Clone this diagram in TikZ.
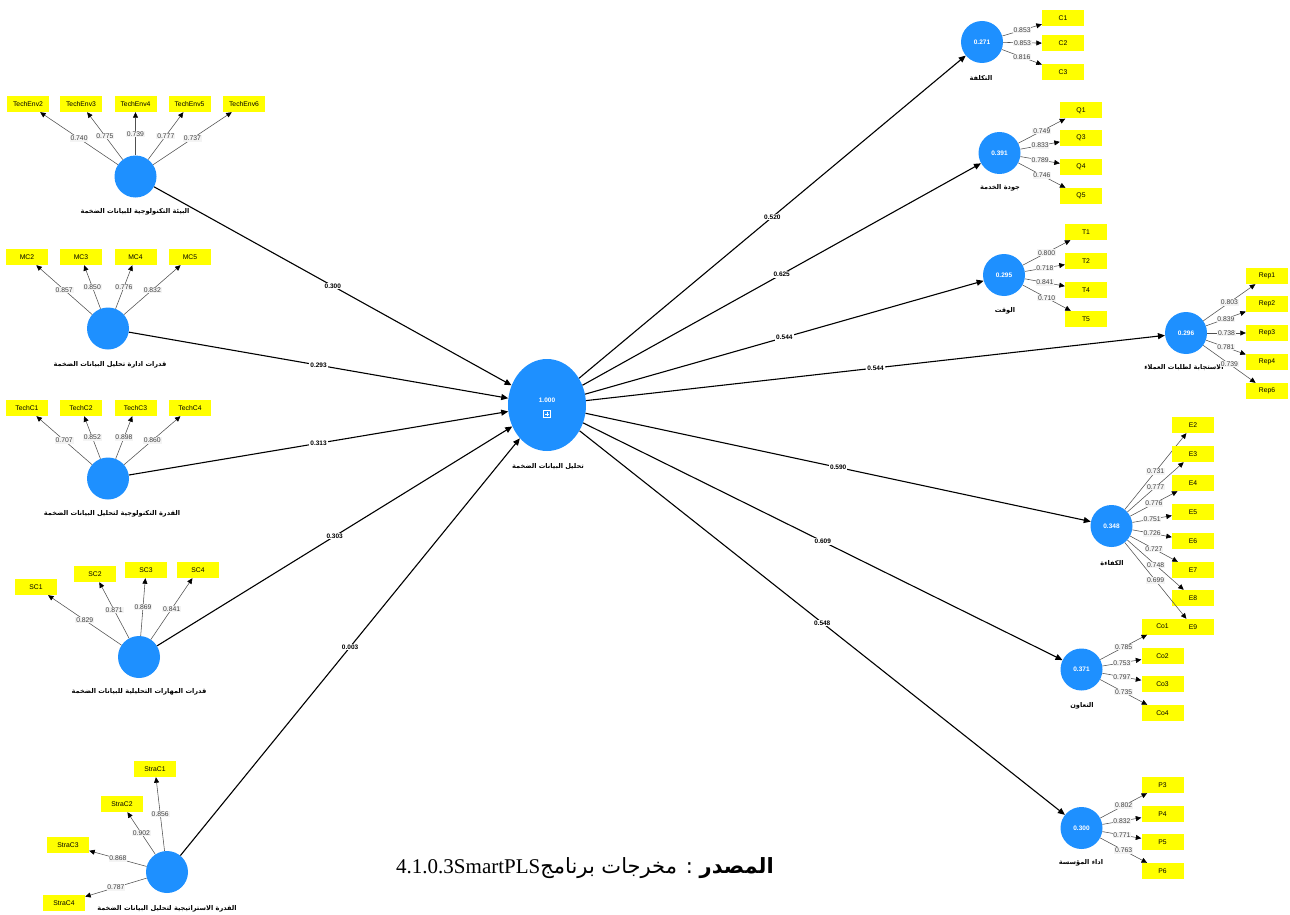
\documentclass[tikz,border=0pt]{standalone}
\usepackage{fontspec}
\setmainfont{Liberation Sans}
\newfontfamily\arabicfont[Script=Arabic]{DejaVu Sans}
\newfontfamily\capfont{Liberation Serif}
\TeXXeTstate=1
\usetikzlibrary{arrows.meta,shapes.geometric}
\definecolor{plsblue}{RGB}{30,144,255}
\definecolor{plsyellow}{RGB}{255,255,0}
\definecolor{ldgray}{RGB}{80,80,80}
\definecolor{ldfill}{RGB}{244,244,244}
\tikzset{
  lv/.style={circle, fill=plsblue, minimum size=42pt, inner sep=0pt, text=white, font=\bfseries\fontsize{6.5}{7}\selectfont},
  ind/.style={rectangle, fill=plsyellow, minimum width=42pt, minimum height=16pt, inner sep=0pt, font=\fontsize{6.8}{8}\selectfont},
  ld/.style={draw=ldgray, line width=0.55pt, -{Triangle[length=5.5pt,width=5pt,black]}},
  ldlab/.style={fill=ldfill, text=black!75, inner sep=0.8pt, font=\fontsize{6.8}{8}\selectfont},
  pth/.style={draw=black, line width=1.1pt, -{Triangle[length=7pt,width=6pt]}},
  pthlab/.style={fill=white, inner sep=1pt, font=\bfseries\fontsize{6.5}{8}\selectfont},
  arlab/.style={font=\arabicfont\bfseries\fontsize{6.6}{8}\selectfont, inner sep=0pt},
}
\begin{document}
\begin{tikzpicture}[x=1pt,y=-1pt]
\useasboundingbox (0,0) rectangle (1290,915);
\fill[white] (0,0) rectangle (1290,915);

% ---------- central construct ----------
\node[ellipse, fill=plsblue, minimum width=78pt, minimum height=92pt, inner sep=0pt] (bda) at (547,405) {};
\node[text=white, font=\bfseries\fontsize{6.5}{7}\selectfont] (bdaval) at (547,400) {1.000};
\node[draw=white, line width=0.6pt, minimum size=7.5pt, inner sep=0pt] (plus) at (547,414) {};
\draw[white, line width=0.6pt] ([yshift=2.3pt]plus.center) -- ([yshift=-2.3pt]plus.center);
\draw[white, line width=0.6pt] ([xshift=2.3pt]plus.center) -- ([xshift=-2.3pt]plus.center);
\node[arlab] (bdalab) at (548,467) {\beginR تحليل البيانات الضخمة\endR};

% ---------- TechEnv ----------
\node[lv] (te) at (135.5,176.5) {};
\node[arlab] (telab) at (135,212) {\beginR البيئة التكنولوجية للبيانات الضخمة\endR};
\foreach \n/\px/\l in {2/28/0.740, 3/81/0.775, 4/135.5/0.739, 5/189.5/0.777, 6/244/0.737} {
  \node[ind] (te\n) at (\px,104) {TechEnv\n};
  \draw[ld] (te) -- node[ldlab]{\l} (te\n);
}

% ---------- MC ----------
\node[lv] (mc) at (108,328.5) {};
\node[arlab] (mclab) at (110,365) {\beginR قدرات ادارة تحليل البيانات الضخمة\endR};
\foreach \n/\px/\l in {2/27/0.857, 3/81/0.850, 4/135.5/0.776, 5/190/0.832} {
  \node[ind] (mc\n) at (\px,257) {MC\n};
  \draw[ld] (mc) -- node[ldlab]{\l} (mc\n);
}

% ---------- TechC ----------
\node[lv] (tc) at (108,478.5) {};
\node[arlab] (tclab) at (112,514) {\beginR القدرة التكنولوجية لتحليل البيانات الضخمة\endR};
\foreach \n/\px/\l in {1/27/0.707, 2/81/0.852, 3/135.5/0.898, 4/190/0.860} {
  \node[ind] (tc\n) at (\px,408) {TechC\n};
  \draw[ld] (tc) -- node[ldlab]{\l} (tc\n);
}

% ---------- SC ----------
\node[lv] (sc) at (139,657) {};
\node[arlab] (sclab) at (139,692) {\beginR قدرات المهارات التحليلية للبيانات الضخمة\endR};
\foreach \n/\px/\py/\l in {1/36/587/0.829, 2/95/574/0.871, 3/146/570/0.869, 4/198/570/0.841} {
  \node[ind] (sc\n) at (\px,\py) {SC\n};
  \draw[ld] (sc) -- node[ldlab]{\l} (sc\n);
}

% ---------- StraC ----------
\node[lv] (st) at (167,872) {};
\node[arlab] (stlab) at (167,909) {\beginR القدرة الاستراتيجية لتحليل البيانات الضخمة\endR};
\foreach \n/\px/\py/\l in {1/155/769/0.856, 2/122/804/0.902, 3/68/845/0.868, 4/64/903/0.787} {
  \node[ind] (st\n) at (\px,\py) {StraC\n};
  \draw[ld] (st) -- node[ldlab]{\l} (st\n);
}

% ---------- paths into BDA ----------
\draw[pth] (te) -- node[pthlab]{0.300} (bda);
\draw[pth] (mc) -- node[pthlab]{0.293} (bda);
\draw[pth] (tc) -- node[pthlab]{0.313} (bda);
\draw[pth] (sc) -- node[pthlab]{0.303} (bda);
\draw[pth] (st) -- node[pthlab]{0.003} (bda);

% ---------- Cost ----------
\node[lv] (c) at (982,42) {0.271};
\node[arlab] (clab) at (981,78) {\beginR التكلفة\endR};
\foreach \n/\py/\l in {1/18/0.853, 2/43.5/0.853, 3/72.5/0.816} {
  \node[ind] (c\n) at (1063,\py) {C\n};
  \draw[ld] (c) -- node[ldlab]{\l} (c\n);
}

% ---------- Quality ----------
\node[lv] (q) at (999.5,153) {0.391};
\node[arlab] (qlab) at (1000,188) {\beginR جودة الخدمة\endR};
\foreach \n/\py/\l in {1/110.5/0.749, 3/138/0.833, 4/167/0.789, 5/196/0.746} {
  \node[ind] (q\n) at (1081,\py) {Q\n};
  \draw[ld] (q) -- node[ldlab]{\l} (q\n);
}

% ---------- Time ----------
\node[lv] (t) at (1004,275) {0.295};
\node[arlab] (tlab) at (1005,311) {\beginR الوقت\endR};
\foreach \n/\py/\l in {1/232/0.800, 2/261/0.718, 4/290/0.841, 5/319/0.710} {
  \node[ind] (t\n) at (1086,\py) {T\n};
  \draw[ld] (t) -- node[ldlab]{\l} (t\n);
}

% ---------- Responsiveness ----------
\node[lv] (r) at (1186,333) {0.296};
\node[arlab] (rlab) at (1184,368) {\beginR الاستجابة لطلبات العملاء\endR};
\foreach \n/\py/\l in {1/276/0.803, 2/304/0.839, 3/333/0.738, 4/362/0.781, 6/391/0.739} {
  \node[ind] (r\n) at (1267,\py) {Rep\n};
  \draw[ld] (r) -- node[ldlab]{\l} (r\n);
}

% ---------- Cooperation ----------
\node[lv] (co) at (1081.5,669.5) {0.371};
\node[arlab] (colab) at (1082,706) {\beginR التعاون\endR};
\foreach \n/\py/\l in {1/626.5/0.785, 2/656/0.753, 3/684/0.797, 4/713/0.735} {
  \node[ind] (co\n) at (1162.5,\py) {Co\n};
  \draw[ld] (co) -- node[ldlab]{\l} (co\n);
}

% ---------- Efficiency ----------
\node[lv] (e) at (1111.5,526) {0.348};
\node[arlab] (elab) at (1112,563) {\beginR الكفاءة\endR};
\foreach \n/\py/\l in {2/425/0.731, 3/454/0.777, 4/483/0.776, 5/512/0.751, 6/541/0.726, 7/570/0.727, 8/598/0.748, 9/627/0.699} {
  \node[ind] (e\n) at (1193,\py) {E\n};
  \draw[ld] (e) -- node[ldlab]{\l} (e\n);
}

% ---------- Performance ----------
\node[lv] (p) at (1081.5,828) {0.300};
\node[arlab] (plab) at (1081,863) {\beginR اداء المؤسسة\endR};
\foreach \n/\py/\l in {3/785/0.802, 4/814/0.832, 5/842/0.771, 6/871/0.763} {
  \node[ind] (p\n) at (1162.5,\py) {P\n};
  \draw[ld] (p) -- node[ldlab]{\l} (p\n);
}

% ---------- paths out of BDA ----------
\draw[pth] (bda) -- node[pthlab]{0.520} (c);
\draw[pth] (bda) -- node[pthlab]{0.625} (q);
\draw[pth] (bda) -- node[pthlab]{0.544} (t);
\draw[pth] (bda) -- node[pthlab]{0.544} (r);
\draw[pth] (bda) -- node[pthlab]{0.590} (e);
\draw[pth] (bda) -- node[pthlab]{0.609} (co);
\draw[pth] (bda) -- node[pthlab]{0.548} (p);

% ---------- caption ----------
\node[inner sep=0pt, font=\fontsize{21}{25}\selectfont] (cap) at (585,868) {{\capfont 4.1.0.3SmartPLS}{\arabicfont\beginR\textbf{المصدر} : مخرجات برنامج\endR}};
\end{tikzpicture}
\end{document}
